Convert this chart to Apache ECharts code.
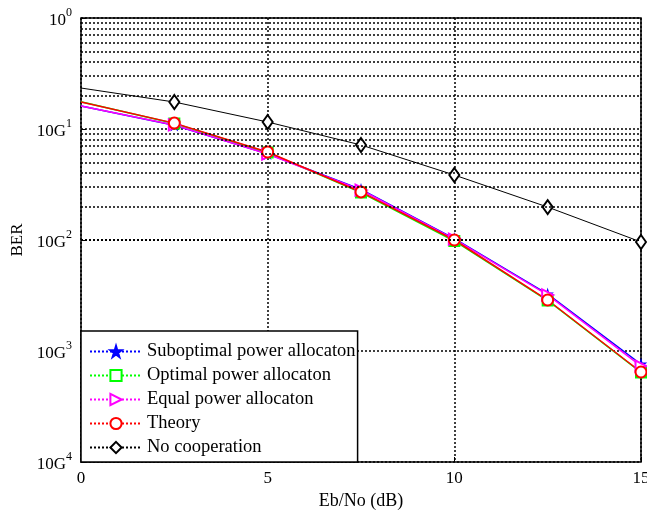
<!DOCTYPE html>
<html>
<head>
<meta charset="utf-8">
<script src="https://cdn.jsdelivr.net/npm/echarts@6/dist/echarts.min.js"></script>
<style>
  html, body { margin: 0; padding: 0; background: #fff; }
  #chart { width: 647px; height: 515px; }
</style>
</head>
<body>
<div id="chart"></div>
<script>
  // Eb/No (dB) sample points
  const ebno = [0, 2.5, 5, 7.5, 10, 12.5, 15]
  const xTicks = [0, 5, 10, 15]

  // BER values
  const berSuboptimal = [0.161, 0.108, 0.0598, 0.0285, 0.0103, 0.00325, 0.00076]
  const berOptimal = [0.176, 0.112, 0.0615, 0.0268, 0.0098, 0.00285, 0.00064]
  const berEqual = [0.161, 0.1087, 0.0595, 0.0282, 0.0102, 0.0032, 0.00073]
  const berTheory = [0.175, 0.113, 0.0621, 0.0271, 0.0100, 0.00288, 0.000647]
  const berNoCoop = [0.234, 0.175, 0.1156, 0.0718, 0.0385, 0.0198, 0.0096]

  const seriesNames = [
    'Suboptimal power allocaton',
    'Optimal power allocaton',
    'Equal power allocaton',
    'Theory',
    'No cooperation'
  ]

  // y tick labels (exponent shown as superscript, as printed in the figure)
  const yTickBase = ['10', '10G', '10G', '10G', '10G']
  const yTickExp = ['0', '1', '2', '3', '4']

  // minor log grid lines 2..9 x 10^k
  const minorGrid = []
  for (let k = -4; k < 0; k++) {
    for (let m = 2; m <= 9; m++) {
      minorGrid.push({ yAxis: m * Math.pow(10, k) })
    }
  }

  const font = 'Liberation Serif'
  const gridLine = { color: '#000', type: [2, 2], width: 1.5 }
  const starPath = 'path://M50,0L61,35L98,35L68,57L79,91L50,70L21,91L32,57L2,35L39,35Z'

  function toPoints(ys) {
    return ebno.map((x, i) => i === 0 ? { value: [x, ys[i]], symbol: 'none' } : [x, ys[i]])
  }

  function makeSeries(name, ys, color, symbol, size, width, rotate) {
    return {
      name: name,
      type: 'line',
      data: toPoints(ys),
      symbol: symbol,
      symbolSize: size,
      symbolRotate: rotate || 0,
      showAllSymbol: true,
      color: color,
      lineStyle: { color: color, width: width },
      itemStyle: { color: color, borderColor: color, borderWidth: 1.2 },
      z: 3,
      animation: false
    }
  }

  const chart = echarts.init(document.getElementById('chart'))
  const option = {
    backgroundColor: '#fff',
    animation: false,
    grid: {
      left: 81,
      right: 6,
      top: 18,
      bottom: 53,
      outerBoundsMode: 'none',
      containLabel: false,
      show: true,
      borderColor: '#000',
      borderWidth: 1.5,
      backgroundColor: '#fff'
    },
    legend: {
      orient: 'vertical',
      left: 81,
      top: 331,
      data: seriesNames,
      backgroundColor: '#fff',
      borderColor: '#000',
      borderWidth: 1.5,
      borderRadius: 0,
      padding: [11, 2, 5, 8],
      itemGap: 5,
      itemWidth: 52,
      itemHeight: 14,
      lineStyle: { type: 'dotted' },
      textStyle: { fontFamily: font, fontSize: 18.5, color: '#000' }
    },
    xAxis: {
      type: 'value',
      min: 0,
      max: 15,
      interval: 5,
      name: 'Eb/No (dB)',
      nameLocation: 'middle',
      nameGap: 28,
      nameTextStyle: { fontFamily: font, fontSize: 18, color: '#000' },
      axisLine: { show: false },
      axisTick: { show: true, inside: true, length: 5, lineStyle: { color: '#000' } },
      axisLabel: {
        margin: 8,
        fontFamily: font,
        fontSize: 17,
        color: '#000',
        formatter: v => xTicks.indexOf(v) >= 0 ? String(v) : ''
      },
      splitLine: { show: true, lineStyle: gridLine }
    },
    yAxis: {
      type: 'log',
      logBase: 10,
      min: 1e-4,
      max: 1,
      name: 'BER',
      nameLocation: 'middle',
      nameGap: 52,
      nameTextStyle: { fontFamily: font, fontSize: 17, color: '#000' },
      axisLine: { show: false },
      axisTick: { show: true, inside: true, length: 5, lineStyle: { color: '#000' } },
      axisLabel: {
        margin: 9,
        color: '#000',
        formatter: function (v) {
          const e = Math.round(-Math.log10(v))
          return '{b|' + yTickBase[e] + '}{s|' + yTickExp[e] + '}'
        },
        rich: {
          b: { fontFamily: font, fontSize: 17, lineHeight: 22, color: '#000', verticalAlign: 'bottom' },
          s: { fontFamily: font, fontSize: 12, lineHeight: 22, color: '#000', verticalAlign: 'top' }
        }
      },
      splitLine: { show: true, lineStyle: gridLine }
    },
    series: [
      {
        name: 'grid',
        type: 'line',
        data: [],
        z: 1,
        silent: true,
        markLine: {
          silent: true,
          symbol: 'none',
          label: { show: false },
          lineStyle: gridLine,
          data: minorGrid,
          animation: false
        }
      },
      makeSeries(seriesNames[0], berSuboptimal, '#0000ff', starPath, 9, 1.5),
      makeSeries(seriesNames[1], berOptimal, '#00ff00', 'emptyRect', 10, 1.5),
      makeSeries(seriesNames[2], berEqual, '#ff00ff', 'emptyTriangle', 11, 1.5, -90),
      makeSeries(seriesNames[3], berTheory, '#ff0000', 'emptyCircle', 11, 1.5),
      makeSeries(seriesNames[4], berNoCoop, '#000000', 'emptyDiamond', [10, 14], 1)
    ]
  }
  chart.setOption(option)
</script>
</body>
</html>
